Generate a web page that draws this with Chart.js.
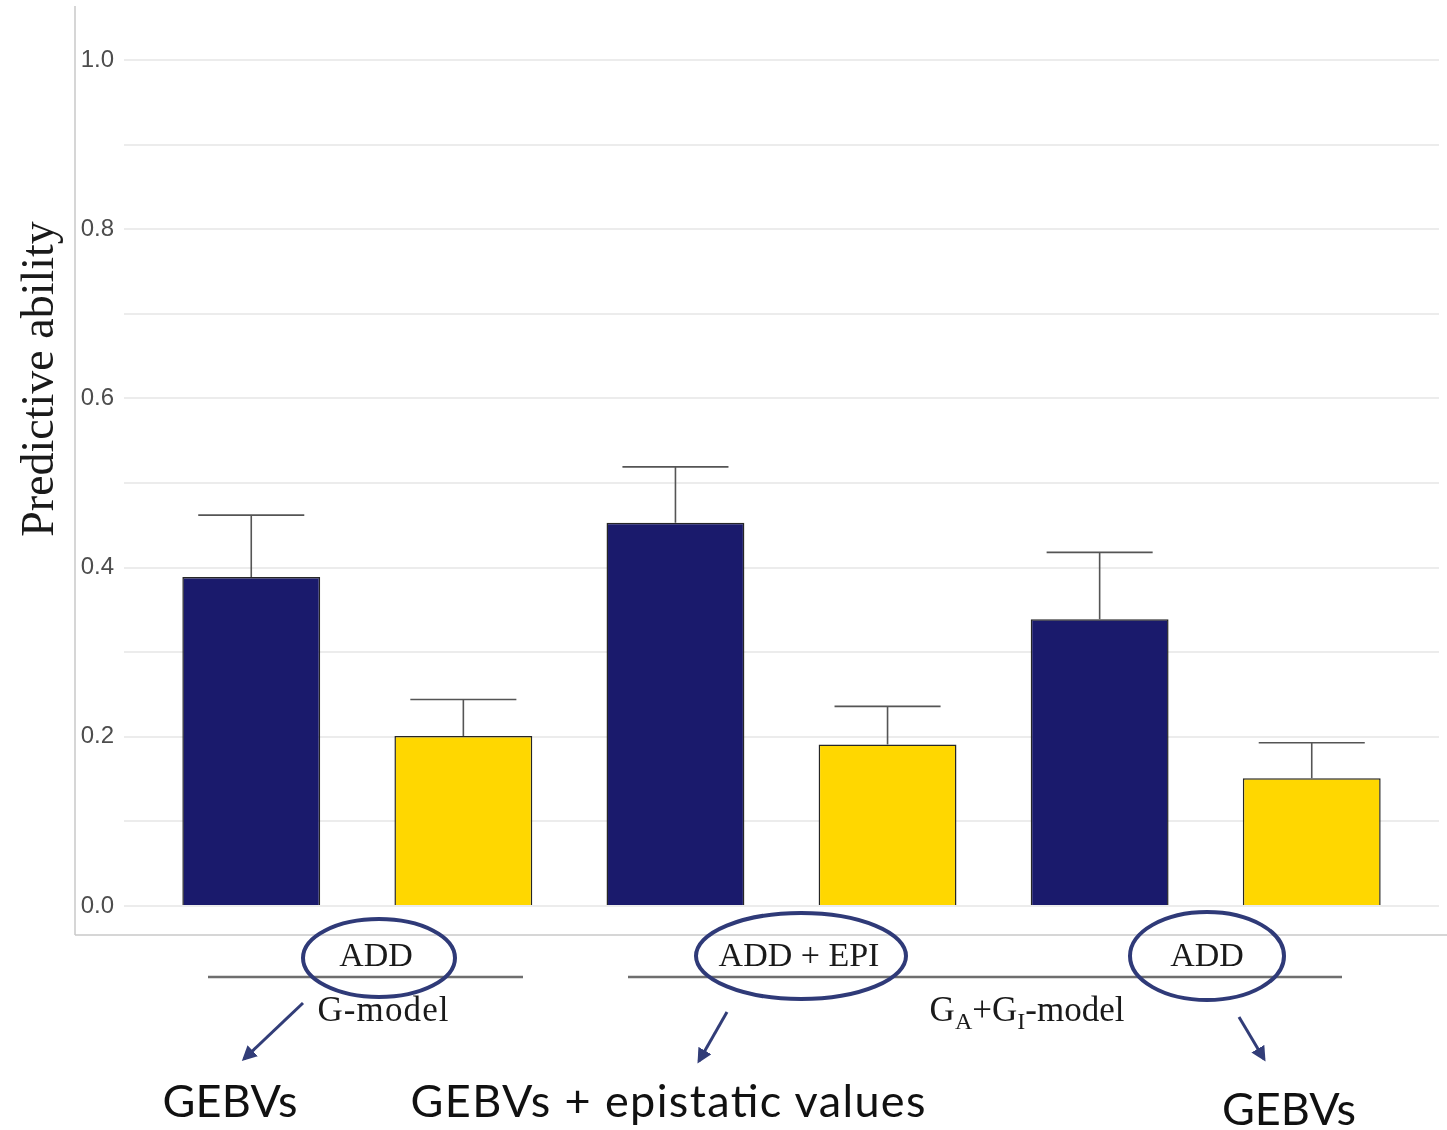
<!DOCTYPE html>
<html>
<head>
<meta charset="utf-8">
<script src="https://cdn.jsdelivr.net/npm/chart.js@4"></script>
<style>
  html, body { margin: 0; padding: 0; background: #fff; }
  #wrap { position: relative; width: 1447px; height: 1130px; }
  #chart { position: absolute; left: 0; top: 0; }
  #notes { position: absolute; left: 0; top: 0; pointer-events: none; }
  .serif { font-family: 'Liberation Serif', 'Times New Roman', serif; fill: #1a1a1a; }
  .gothic { font-family: Lato, 'Noto Sans', sans-serif; fill: #111; }
</style>
</head>
<body>
<div id="wrap">
  <canvas id="chart" width="1447" height="1130"></canvas>
  <svg id="notes" width="1447" height="1130">
    <defs>
      <marker id="head" viewBox="0 0 10 10" refX="8" refY="5" markerWidth="5" markerHeight="5" orient="auto">
        <path d="M0,0 L10,5 L0,10 z" fill="#323d78"/>
      </marker>
    </defs>
    <!-- frame -->
    <line x1="75" y1="6" x2="75" y2="935" stroke="#c9c9c9" stroke-width="1.5"/>
    <line x1="75" y1="935" x2="1447" y2="935" stroke="#c9c9c9" stroke-width="1.5"/>

    <text class="serif" transform="rotate(-90)" x="-379" y="53" text-anchor="middle" font-size="46">Predictive ability</text>

    <!-- group labels -->
    <line x1="208" y1="977" x2="523" y2="977" stroke="#6e6e6e" stroke-width="2.5"/>
    <line x1="628" y1="977" x2="1342" y2="977" stroke="#6e6e6e" stroke-width="2.5"/>
    <text class="serif" x="376" y="966" text-anchor="middle" font-size="34">ADD</text>
    <text class="serif" x="799" y="966" text-anchor="middle" font-size="34">ADD + EPI</text>
    <text class="serif" x="1207" y="966" text-anchor="middle" font-size="34">ADD</text>
    <text class="serif" x="383" y="1021" text-anchor="middle" font-size="35" textLength="131" lengthAdjust="spacing">G-model</text>
    <text class="serif" x="1027" y="1021" text-anchor="middle" font-size="35">G<tspan font-size="24" dy="8">A</tspan><tspan dy="-8">+G</tspan><tspan font-size="24" dy="8">I</tspan><tspan dy="-8">-model</tspan></text>

    <ellipse cx="379" cy="958" rx="76" ry="39" fill="none" stroke="#2f3a78" stroke-width="4"/>
    <ellipse cx="801" cy="956" rx="105" ry="43" fill="none" stroke="#2f3a78" stroke-width="4"/>
    <ellipse cx="1207" cy="956" rx="77" ry="44" fill="none" stroke="#2f3a78" stroke-width="4"/>

    <line x1="303" y1="1003" x2="244" y2="1059" stroke="#323d78" stroke-width="3" marker-end="url(#head)"/>
    <line x1="727" y1="1012" x2="699" y2="1061" stroke="#323d78" stroke-width="3" marker-end="url(#head)"/>
    <line x1="1239" y1="1017" x2="1264" y2="1059" stroke="#323d78" stroke-width="3" marker-end="url(#head)"/>

    <text class="gothic" x="230" y="1117" text-anchor="middle" font-size="45" textLength="135" lengthAdjust="spacing">GEBVs</text>
    <text class="gothic" x="668" y="1117" text-anchor="middle" font-size="45" textLength="515" lengthAdjust="spacing">GEBVs + epistatic values</text>
    <text class="gothic" x="1289" y="1125" text-anchor="middle" font-size="45" textLength="134" lengthAdjust="spacing">GEBVs</text>
  </svg>
</div>
<script>
// bars in order: G-model ADD, G_A+G_I-model ADD + EPI, G_A+G_I-model ADD; navy then gold in each
const groups = ['ADD', 'ADD + EPI', 'ADD'];
const barX = [1, 2, 3, 4, 5, 6];

const navyValues = [0.389, 0.453, 0.339];
const navyErrors = [0.073, 0.066, 0.079];
const goldValues = [0.201, 0.191, 0.151];
const goldErrors = [0.043, 0.045, 0.042];

const yTicks = [0, 0.1, 0.2, 0.3, 0.4, 0.5, 0.6, 0.7, 0.8, 0.9, 1.0];

const NAVY = '#1a1a6c';
const GOLD = '#ffd700';

// interleave the two series: navy, gold, navy, gold ...
const values = groups.flatMap((g, i) => [navyValues[i], goldValues[i]]);
const errors = groups.flatMap((g, i) => [navyErrors[i], goldErrors[i]]);
const colors = groups.flatMap(() => [NAVY, GOLD]);

const errorBars = {
  id: 'errorBars',
  afterDatasetsDraw(chart) {
    const { ctx, scales: { x, y } } = chart;
    ctx.save();
    ctx.strokeStyle = '#555';
    ctx.lineWidth = 1.6;
    chart.data.datasets.forEach(ds => {
      ds.data.forEach((p, i) => {
        const top = y.getPixelForValue(p.y + ds.errors[i]);
        const yb = y.getPixelForValue(p.y);
        const xc = x.getPixelForValue(p.x);
        const x0 = x.getPixelForValue(p.x - 0.25);
        const x1 = x.getPixelForValue(p.x + 0.25);
        ctx.beginPath();
        ctx.moveTo(xc, yb);
        ctx.lineTo(xc, top);
        ctx.moveTo(x0, top);
        ctx.lineTo(x1, top);
        ctx.stroke();
      });
    });
    ctx.restore();
  }
};

new Chart(document.getElementById('chart'), {
  type: 'bar',
  data: {
    datasets: [{
      data: barX.map((x, i) => ({ x, y: values[i] })),
      errors,
      backgroundColor: colors,
      borderColor: '#262626',
      borderWidth: 1.5,
      barPercentage: 0.65,
      categoryPercentage: 1,
    }],
  },
  options: {
    responsive: false,
    animation: false,
    layout: { padding: { left: 0, top: 5, right: 8, bottom: 195 } },
    plugins: { legend: { display: false }, tooltip: { enabled: false } },
    scales: {
      x: {
        type: 'linear', min: 0.4, max: 6.6, offset: false, display: false,
        afterBuildTicks(s) { s.ticks = barX.map(v => ({ value: v })); },
      },
      y: {
        min: -0.0343,
        max: 1.065,
        afterFit(s) { s.width = 124; s.paddingTop = 0; s.paddingBottom = 0; },
        afterBuildTicks(s) { s.ticks = yTicks.map(v => ({ value: v })); },
        border: { display: false },
        grid: { color: '#ececec', lineWidth: 2, drawTicks: false },
        ticks: {
          padding: 10,
          color: '#4d4d4d',
          font: { family: 'Liberation Sans', size: 24 },
          callback: v => (Math.round(v * 10) % 2 === 0 ? v.toFixed(1) : ''),
        },
      },
    },
  },
  plugins: [errorBars],
});
</script>
</body>
</html>
